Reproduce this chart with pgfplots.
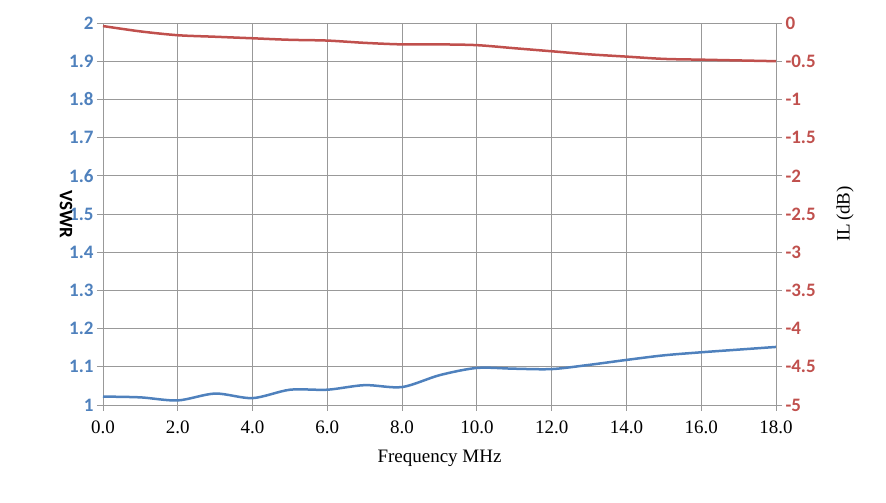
\documentclass[border=0pt]{standalone}
\usepackage{pgfplots}
\pgfplotsset{compat=1.18}
\usepackage{fontspec}
\setmainfont{Carlito}
\newfontfamily\xf{Liberation Serif}
\definecolor{cb}{HTML}{4F81BD}
\definecolor{cr}{HTML}{C0504D}
\begin{document}
\begin{tikzpicture}
\useasboundingbox (-103pt,-98pt) rectangle (783pt,405pt);
\begin{axis}[at={(0,0)},anchor=south west,scale only axis,width=673pt,height=382pt,
 xmin=0,xmax=18,ymin=1,ymax=2,xtick={0,2,...,18},ytick={1,1.1,...,2.01},
 xticklabel={\xf\pgfmathprintnumber[fixed,fixed zerofill,precision=1]{\tick}},
 yticklabel={\textcolor{cb}{\bfseries\pgfmathprintnumber[fixed,precision=1]{\tick}}},
 grid=major,major grid style={gray!80,line width=0.8pt},
 axis line style={gray!80,line width=0.8pt},tick style={gray!80,line width=0.8pt},
 tick align=outside,major tick length=6pt,axis y line*=left,axis x line*=bottom,
 ticklabel style={font=\fontsize{19}{19}\selectfont},
 xticklabel style={yshift=-6pt},
 xlabel={\xf Frequency MHz},xlabel style={font=\fontsize{19}{19}\selectfont,yshift=-10pt},
 ylabel={\bfseries VSWR},ylabel style={font=\fontsize{19}{19}\selectfont,rotate=180,yshift=10pt},
 /pgf/number format/assume math mode=true]
\addplot[cb,line width=2.5pt,smooth] coordinates {(0,1.022)(1,1.02)(2,1.012)(3,1.03)(4,1.018)(5,1.04)(6,1.04)(7,1.052)(8,1.047)(9,1.078)(10,1.097)(11,1.095)(12,1.094)(13,1.105)(14,1.118)(15,1.13)(16,1.138)(17,1.145)(18,1.152)};
\end{axis}
\begin{axis}[at={(0,0)},anchor=south west,scale only axis,width=673pt,height=382pt,
 xmin=0,xmax=18,ymin=-5,ymax=0,ytick={-5,-4.5,...,0},axis x line=none,axis y line*=right,
 axis line style={gray!80,line width=0.8pt},tick style={gray!80,line width=0.8pt},
 tick align=outside,major tick length=6pt,
 yticklabel={\textcolor{cr}{\bfseries\pgfmathprintnumber{\tick}}},
 ticklabel style={font=\fontsize{19}{19}\selectfont},
 ylabel={\xf IL\,(dB)},ylabel style={font=\fontsize{19}{19}\selectfont,yshift=-14pt},
 /pgf/number format/assume math mode=true]
\addplot[cr,line width=2.5pt,smooth] coordinates {(0,-0.04)(1,-0.11)(2,-0.16)(3,-0.18)(4,-0.2)(5,-0.22)(6,-0.23)(7,-0.26)(8,-0.28)(9,-0.28)(10,-0.29)(11,-0.33)(12,-0.37)(13,-0.41)(14,-0.44)(15,-0.47)(16,-0.48)(17,-0.49)(18,-0.5)};
\end{axis}
\end{tikzpicture}
\end{document}
